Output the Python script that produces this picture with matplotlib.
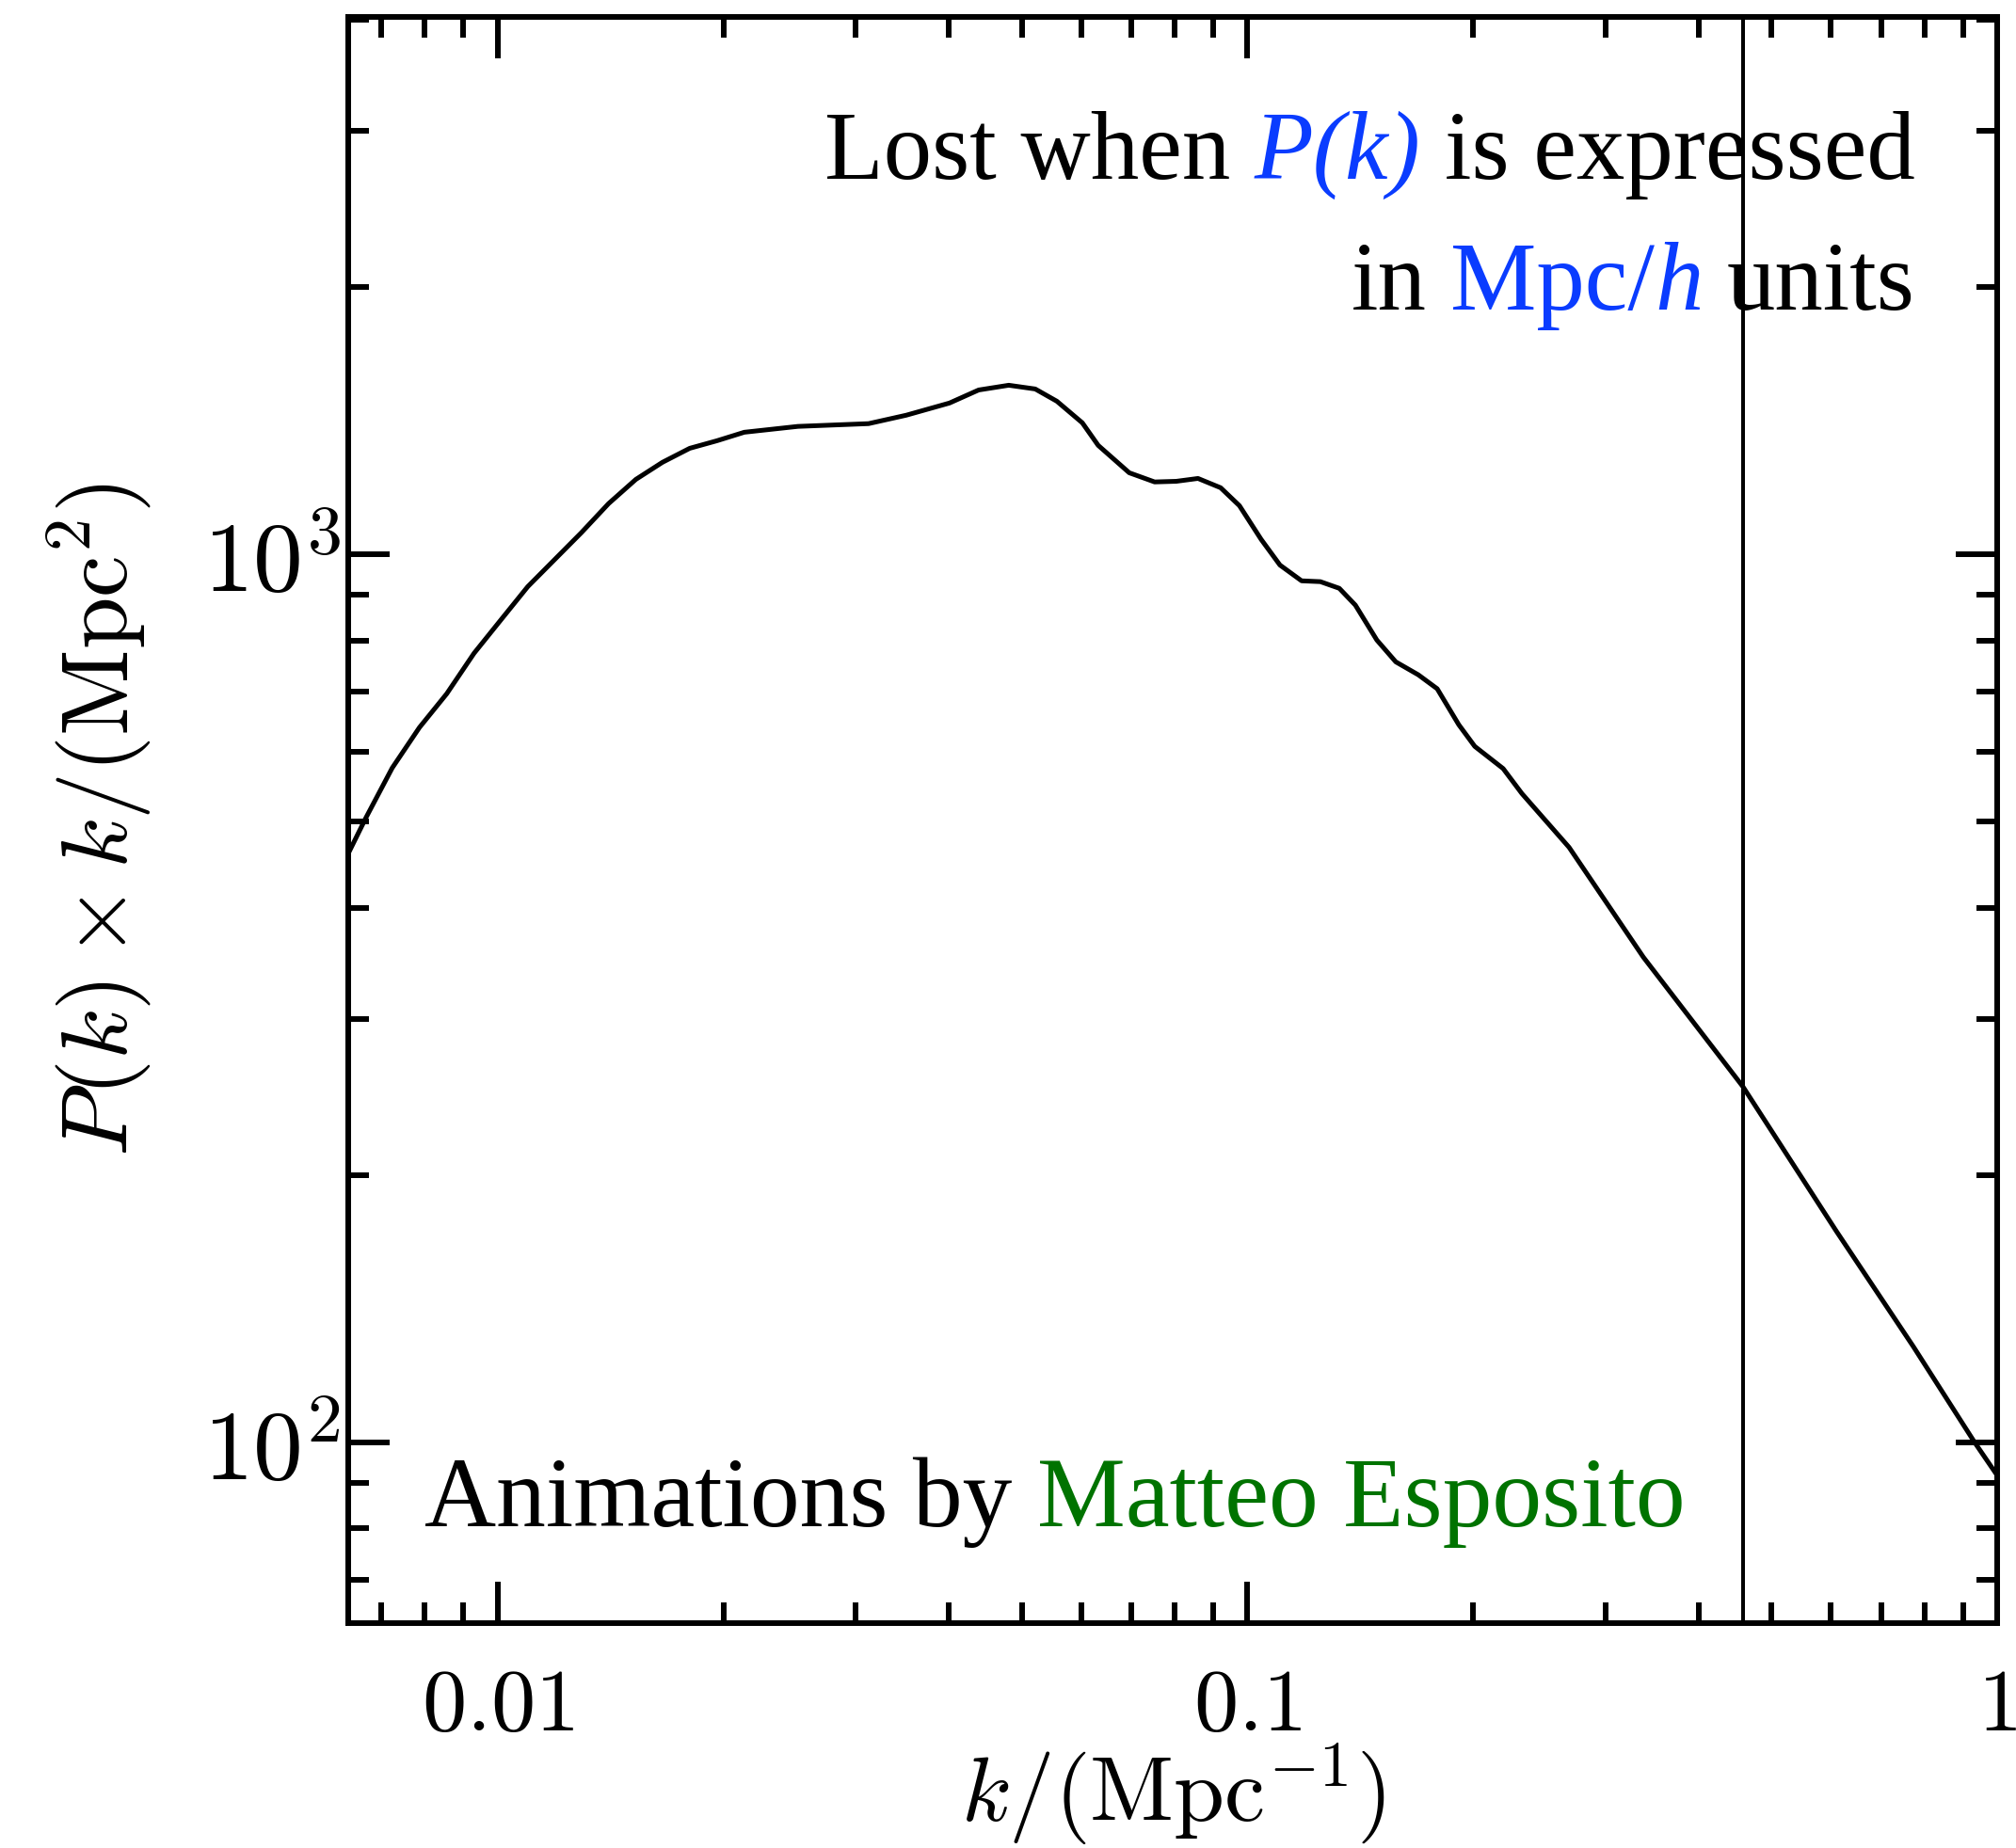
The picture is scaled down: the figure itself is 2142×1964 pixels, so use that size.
import matplotlib
matplotlib.use("Agg")
import matplotlib.pyplot as plt
from matplotlib.ticker import FixedLocator, LogLocator, NullFormatter
from matplotlib.offsetbox import TextArea, HPacker, VPacker, AnnotationBbox

plt.rcParams['mathtext.fontset'] = 'cm'

# k in 1/Mpc, P(k)*k in Mpc^2
k = [0.00632, 0.006672, 0.007236, 0.007866, 0.008555, 0.009302, 0.01009,
     0.01097, 0.01193, 0.01293, 0.01406, 0.01529, 0.01659, 0.01804, 0.01961,
     0.02133, 0.02515, 0.03124, 0.03507, 0.04005, 0.04381, 0.04805, 0.05212,
     0.0557, 0.06023, 0.06324, 0.06957, 0.07521, 0.08037, 0.08592, 0.0921,
     0.09757, 0.1043, 0.1105, 0.1181, 0.1251, 0.1326, 0.1393, 0.1488, 0.1577,
     0.169, 0.1791, 0.1914, 0.201, 0.2193, 0.2323, 0.2685, 0.3373, 0.4581,
     0.61, 0.773, 0.9331, 1.0]
pk = [460.3, 505, 575, 638.5, 697, 774, 843, 920, 988, 1058, 1141, 1215,
      1270, 1317, 1343, 1373, 1394, 1404, 1435, 1481, 1532, 1551, 1536, 1488,
      1407, 1327, 1236, 1207, 1209, 1218, 1189, 1135, 1040, 973, 934, 932,
      916, 877, 801, 757, 732, 706, 643, 608, 574, 538, 468, 352, 251.5, 173,
      128.2, 100, 91.8]

k_cut = 0.458

x_ticks = [0.01, 0.1, 1]
x_ticklabels = ['$0.01$', '$0.1$', '$1$']
y_ticks = [100, 1000]
y_ticklabels = ['$10^2$', '$10^3$']

blue = '#0a3cff'
green = '#007300'
serif = 'Liberation Serif'
fs_note = 74

fig = plt.figure(figsize=(21.42, 19.64), dpi=100)
ax = fig.add_axes([0.1727, 0.1217, 0.8180, 0.8691])

ax.plot(k, pk, color='black', lw=3.6, solid_joinstyle='round')
ax.axvline(k_cut, color='black', lw=2.9)

ax.set_xscale('log')
ax.set_yscale('log')
ax.set_xlim(0.00632, 1.0)
ax.set_ylim(62.6, 4030)

ax.xaxis.set_major_locator(FixedLocator(x_ticks))
ax.set_xticklabels(x_ticklabels)
ax.xaxis.set_minor_locator(LogLocator(base=10, subs=range(2, 10)))
ax.xaxis.set_minor_formatter(NullFormatter())
ax.yaxis.set_major_locator(FixedLocator(y_ticks))
ax.set_yticklabels(y_ticklabels)
ax.yaxis.set_minor_locator(LogLocator(base=10, subs=range(2, 10)))
ax.yaxis.set_minor_formatter(NullFormatter())

ax.tick_params(which='both', direction='in', top=True, right=True, width=4.3)
ax.tick_params(which='major', length=32)
ax.tick_params(which='minor', length=16)
ax.tick_params(axis='x', which='major', pad=30, labelsize=68)
ax.tick_params(axis='y', which='major', pad=6, labelsize=76)
for s in ax.spines.values():
    s.set_linewidth(4.3)

ax.set_xlabel(r'$k/(\mathrm{Mpc}^{-1})$', fontsize=70, labelpad=-6)
ax.set_ylabel(r'$P(k)\times k/(\mathrm{Mpc}^2)$', fontsize=72, labelpad=38)


def piece(txt, color='black', style='normal', size=fs_note):
    return TextArea(txt, textprops=dict(color=color, fontsize=size,
                                        family=serif, style=style))


space = 0.25 * fs_note
line1 = HPacker(children=[piece('Lost when'),
                          piece('P(k)', blue, 'italic'),
                          piece('is expressed')],
                sep=space, align='baseline', pad=0)
mpch = HPacker(children=[piece('Mpc/', blue), piece('h', blue, 'italic')],
               sep=0, align='baseline', pad=0)
line2 = HPacker(children=[piece('in'), mpch, piece('units')],
                sep=space, align='baseline', pad=0)
note = VPacker(children=[line1, line2], sep=32, align='right', pad=0)
ax.add_artist(AnnotationBbox(note, (2035 / 2142, 1 - 118 / 1964),
                             xycoords='figure fraction', box_alignment=(1, 1),
                             frameon=False))

credit = HPacker(children=[piece('Animations by', size=76),
                           piece('Matteo Esposito', green, size=76)],
                 sep=0.25 * 76, align='baseline', pad=0)
ax.add_artist(AnnotationBbox(credit, (451 / 2142, 1 - 1645 / 1964),
                             xycoords='figure fraction', box_alignment=(0, 0),
                             frameon=False))

fig.savefig('out.png', dpi=100)
